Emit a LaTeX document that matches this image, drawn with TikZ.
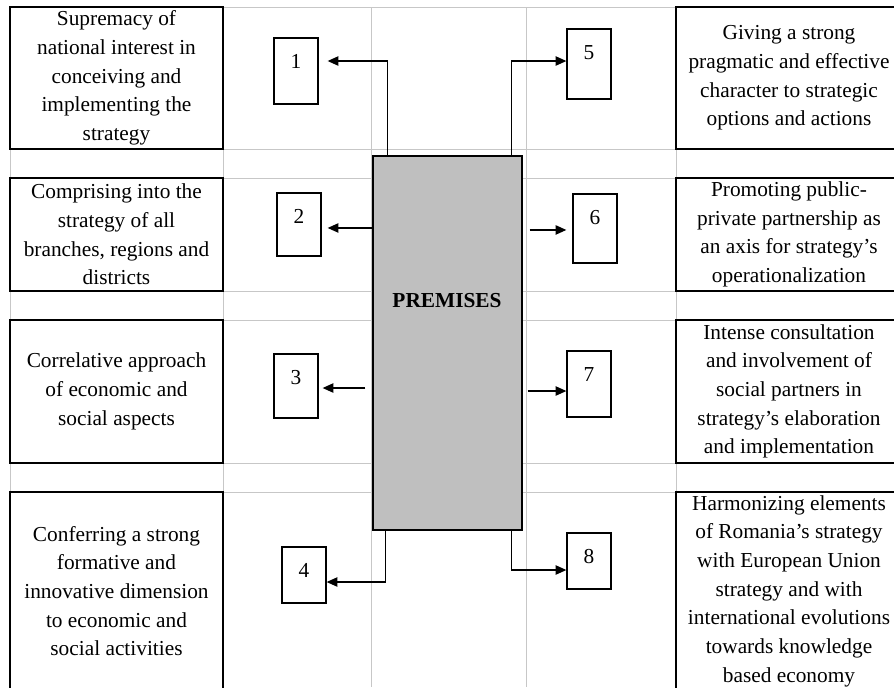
\documentclass[tikz,border=0pt]{standalone}
\usepackage{fontspec}
\setmainfont{Liberation Serif}
\usetikzlibrary{arrows.meta}

\begin{document}
\begin{tikzpicture}[x=0.75pt, y=-0.75pt,
  font=\fontsize{16pt}{21.5pt}\selectfont,
  grid/.style={black!22, line width=0.6pt},
  textbox/.style={draw, line width=1pt, align=center, inner sep=0pt, minimum width=#1},
  numbox/.style={draw, line width=1pt, inner sep=0pt, minimum width=33pt, text height=22.75pt, text depth=#1},
  arr/.style={line width=0.9pt, -{Triangle[length=8pt,width=7pt]}}]
  \clip (0,0) rectangle (894,687);

  % table lines
  \foreach \y in {7,149,178,291,320,463,492}
    \draw[grid] (10,\y) -- (894,\y);
  \foreach \x in {10,223,371,526,676}
    \draw[grid] (\x,7) -- (\x,687);

  % central box
  \node[draw, fill=black!25, line width=1pt, minimum width=111.75pt, minimum height=280.5pt] (premises) at (447.5,343) {};
  \node (title) at (447,301) {\bfseries PREMISES};

  % left column
  \node[textbox=159.75pt, minimum height=106.5pt] (t1) at (116.5,78)
    {Supremacy of\\national interest in\\conceiving and\\implementing the\\strategy};
  \node[textbox=159.75pt, minimum height=84.75pt] (t2) at (116.5,234.5)
    {Comprising into the\\strategy of all\\branches, regions and\\districts};
  \node[textbox=159.75pt, minimum height=107.25pt] (t3) at (116.5,391.5)
    {Correlative approach\\of economic and\\social aspects};
  \node[textbox=159.75pt, minimum height=148.5pt] (t4) at (116.5,591)
    {Conferring a strong\\formative and\\innovative dimension\\to economic and\\social activities};

  % right column
  \node[textbox=169.5pt, minimum height=106.5pt] (t5) at (789,78)
    {Giving a strong\\pragmatic and effective\\character to strategic\\options and actions};
  \node[textbox=169.5pt, minimum height=84.75pt] (t6) at (789,234.5)
    {Promoting public-\\private partnership as\\an axis for strategy’s\\operationalization};
  \node[textbox=169.5pt, minimum height=107.25pt] (t7) at (789,391.5)
    {Intense consultation\\and involvement of\\social partners in\\strategy’s elaboration\\and implementation};
  \node[textbox=169.5pt, minimum height=148.5pt] (t8) at (789,591)
    {Harmonizing elements\\of Romania’s strategy\\with European Union\\strategy and with\\international evolutions\\towards knowledge\\based economy};

  % numbered boxes
  \node[numbox=26.75pt] (n1) at (296,71) {1};
  \node[numbox=24.5pt] (n2) at (299,224.5) {2};
  \node[numbox=25.25pt] (n3) at (296,386) {3};
  \node[numbox=19.25pt] (n4) at (304,575) {4};
  \node[numbox=29.75pt] (n5) at (589,64) {5};
  \node[numbox=29pt] (n6) at (595,228.5) {6};
  \node[numbox=26.75pt] (n7) at (589,384) {7};
  \node[numbox=19.25pt] (n8) at (589,561) {8};

  \coordinate (e1) at ([shift={(6.75pt,7.5pt)}]n1.east);
  \coordinate (e2) at ([shift={(4.5pt,-2.6pt)}]n2.east);
  \coordinate (e3) at ([shift={(3pt,-1.5pt)}]n3.east);
  \coordinate (e4) at ([shift={(0pt,-5.25pt)}]n4.east);
  \coordinate (e5) at ([shift={(0pt,2.25pt)}]n5.west);
  \coordinate (e6) at ([shift={(-4.5pt,-1.1pt)}]n6.west);
  \coordinate (e7) at ([shift={(0pt,-5.25pt)}]n7.west);
  \coordinate (e8) at ([shift={(0pt,-6.75pt)}]n8.west);

  % arrows
  \draw[arr] ([xshift=11.25pt]premises.north west) |- (e1);
  \draw[arr] (e2 -| premises.west) -- (e2);
  \draw[arr, shorten <=5.25pt] (e3 -| premises.west) -- (e3);
  \draw[arr] ([xshift=9.75pt]premises.south west) |- (e4);
  \draw[arr] ([xshift=-8.25pt]premises.north east) |- (e5);
  \draw[arr, shorten <=5.25pt] (e6 -| premises.east) -- (e6);
  \draw[arr, shorten <=3.75pt] (e7 -| premises.east) -- (e7);
  \draw[arr] ([xshift=-8.25pt]premises.south east) |- (e8);
\end{tikzpicture}
\end{document}
